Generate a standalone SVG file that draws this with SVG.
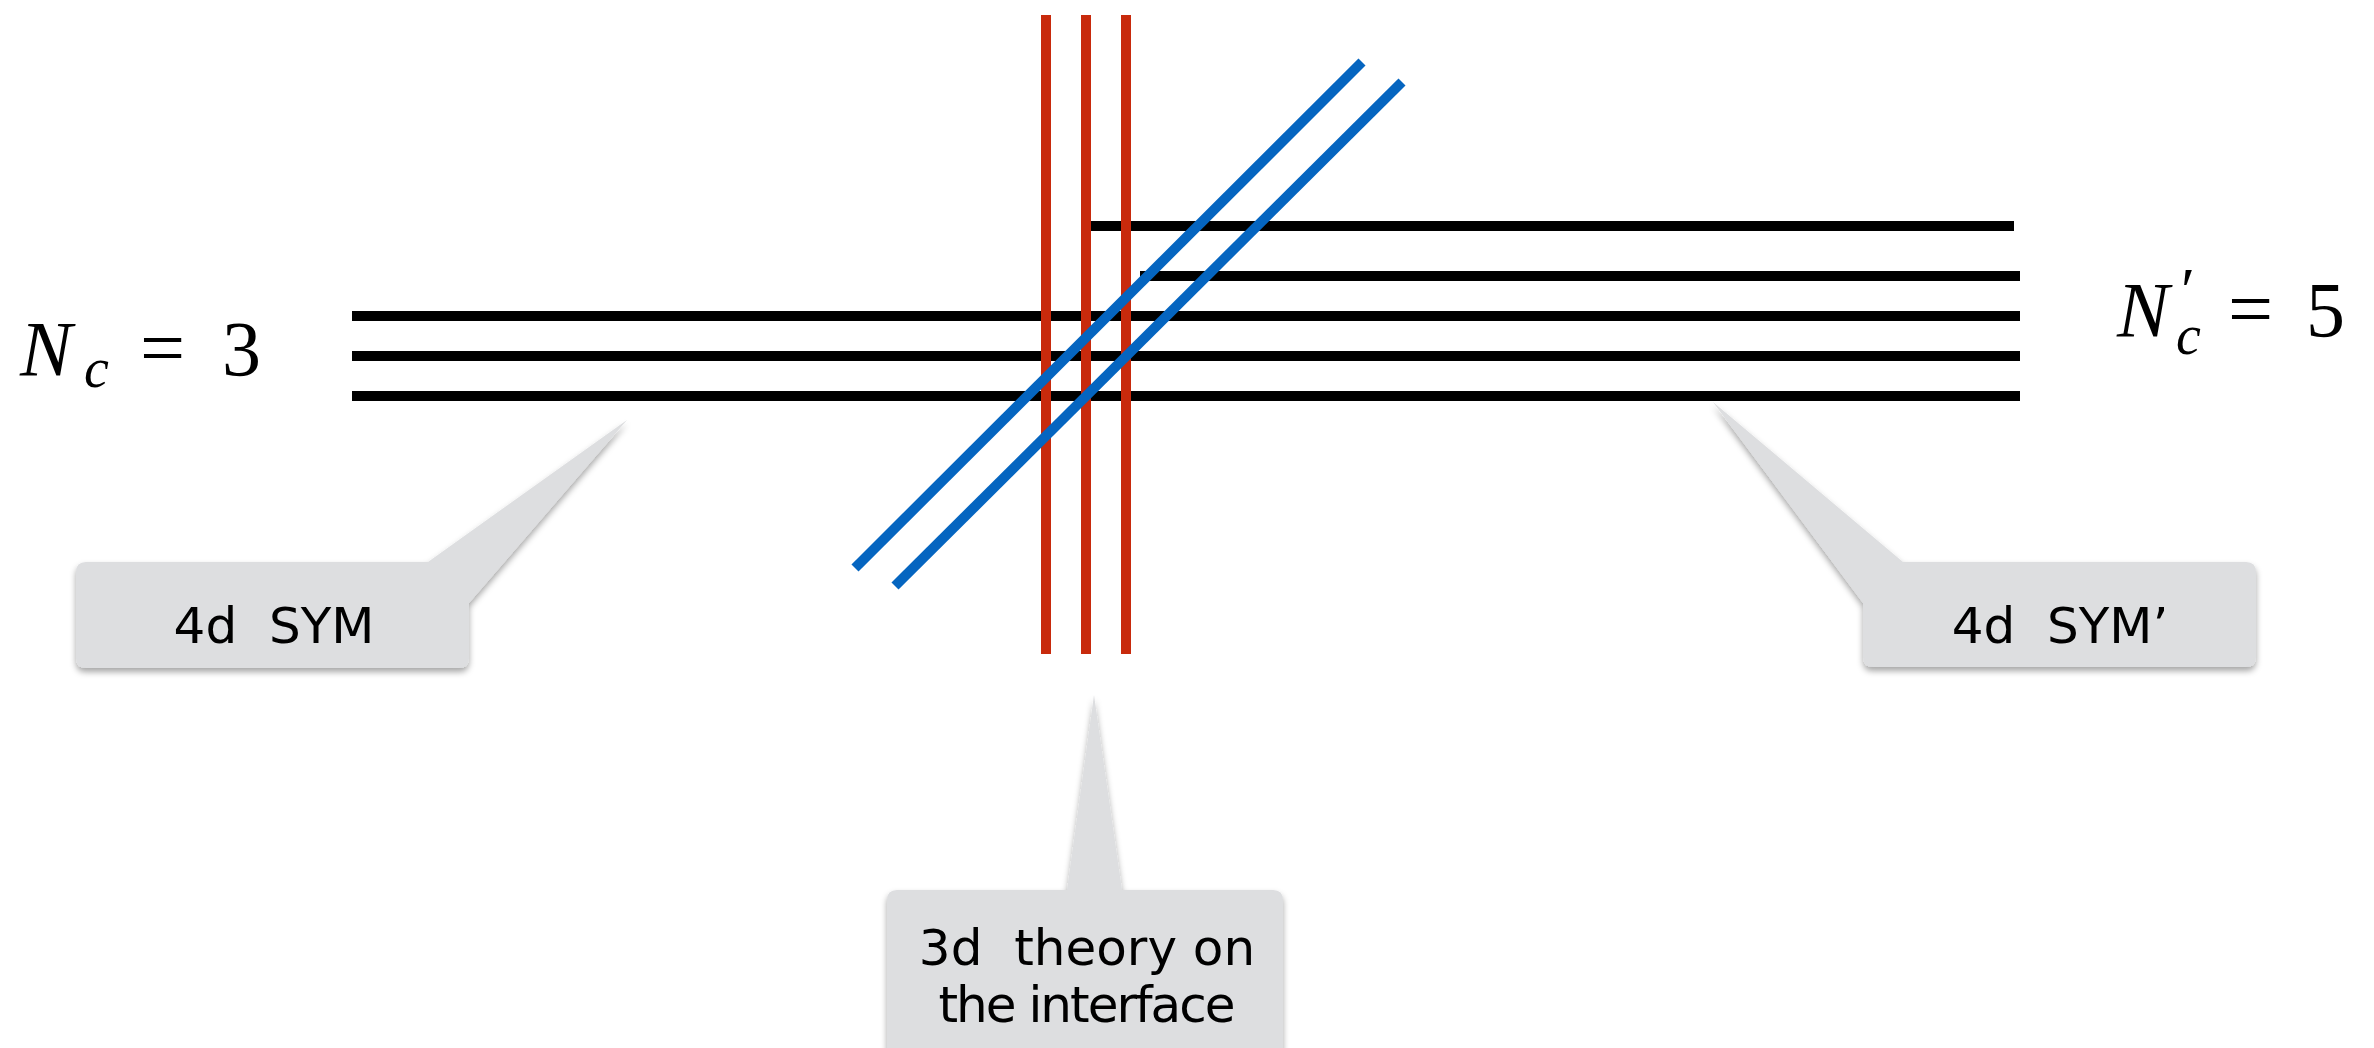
<svg xmlns="http://www.w3.org/2000/svg" width="2374" height="1048" viewBox="0 0 2374 1048">
<style>
.blk{stroke:#000;stroke-width:10;fill:none}
.red{stroke:#C82A0C;stroke-width:10;fill:none}
.blu{stroke:#0565C0;stroke-width:10;fill:none}
.call{fill:#DDDEE0;filter:url(#sh)}
.lbl{font-family:"DejaVu Sans","Liberation Sans",sans-serif;font-size:50px;fill:#000;text-anchor:middle}
.math{font-family:"Liberation Serif","DejaVu Serif",serif;fill:#000}
.it{font-style:italic}
</style>
<defs>
<filter id="sh" x="-10%" y="-10%" width="120%" height="130%">
<feDropShadow dx="0" dy="4" stdDeviation="3" flood-color="#000" flood-opacity="0.35"/>
</filter>
</defs>
<rect width="2374" height="1048" fill="#fff"/>
<g id="connectors">
<line class="blk" x1="1086" y1="226" x2="2014" y2="226"/>
<line class="blk" x1="1140" y1="276" x2="2020" y2="276"/>
<line class="blk" x1="352" y1="316" x2="2020" y2="316"/>
<line class="blk" x1="352" y1="356" x2="2020" y2="356"/>
<line class="blk" x1="352" y1="396" x2="2020" y2="396"/>
<line class="red" x1="1046" y1="15" x2="1046" y2="654"/>
<line class="red" x1="1086" y1="15" x2="1086" y2="654"/>
<line class="red" x1="1126" y1="15" x2="1126" y2="654"/>
<line class="blu" x1="1362" y1="62" x2="855" y2="568"/>
<line class="blu" x1="1402" y1="82" x2="895" y2="586"/>
</g>
<g id="label-nc">
<text class="math" y="375" font-size="78"><tspan class="it" x="20">N</tspan><tspan class="it" x="84" y="387" font-size="56">c</tspan><tspan x="140" y="375" font-size="80">=</tspan><tspan x="222" y="375">3</tspan></text>
</g>
<g id="label-ncp">
<text class="math" y="336" font-size="78"><tspan class="it" x="2117">N</tspan><tspan class="it" x="2176" y="354" font-size="56">c</tspan><tspan x="2228" y="336" font-size="80">=</tspan><tspan x="2306" y="336">5</tspan></text>
<text class="math" x="2181" y="312" font-size="64">′</text>
</g>
<g id="callout-sym">
<path class="call" d="M86 562 H428 L627 420 L469 603 V658 Q469 668 459 668 H86 Q76 668 76 658 V572 Q76 562 86 562 Z"/>
<text class="lbl" x="274" y="643" xml:space="preserve">4d  SYM</text>
</g>
<g id="callout-symp">
<path class="call" d="M1903 562 H2246 Q2256 562 2256 572 V657 Q2256 667 2246 667 H1873 Q1863 667 1863 657 V603 L1713 402 Z"/>
<text class="lbl" x="2060" y="643" xml:space="preserve">4d  SYM’</text>
</g>
<g id="callout-3d">
<path class="call" d="M897 890 H1067 L1094 695 L1122 890 H1273 Q1283 890 1283 900 V1070 H887 V900 Q887 890 897 890 Z"/>
<text class="lbl" x="1087" y="965" xml:space="preserve">3d  theory on</text>
<text class="lbl" x="1086" y="1022" letter-spacing="-2">the interface</text>
</g>
</svg>
